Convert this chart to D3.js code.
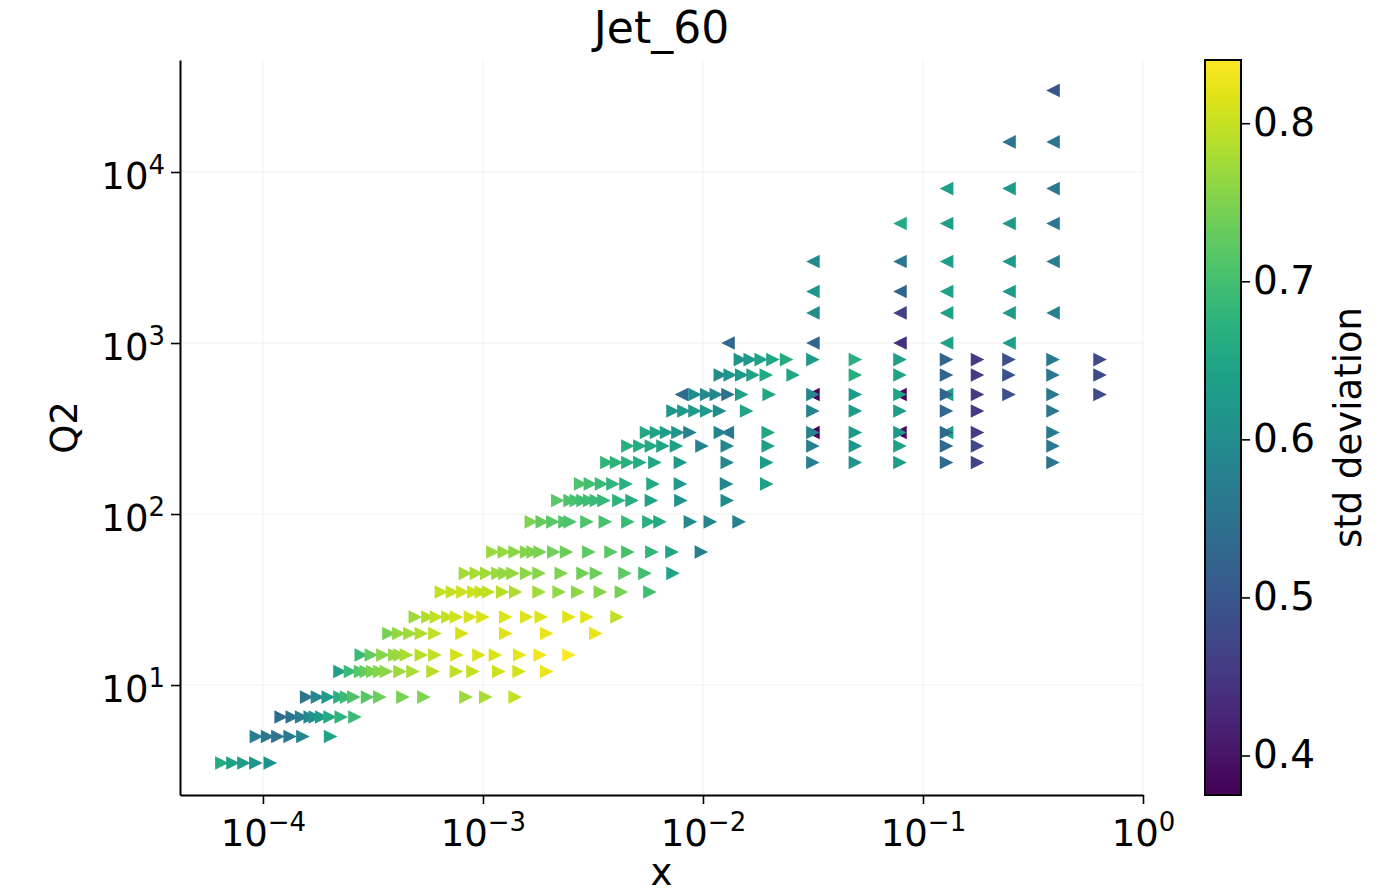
<!DOCTYPE html>
<html>
<head>
<meta charset="utf-8">
<script src="https://cdn.jsdelivr.net/npm/d3@7"></script>
<style>
body { margin: 0; background: #fff; }
text { font-family: "DejaVu Sans", sans-serif; }
</style>
</head>
<body>
<script>
// right-pointing markers, one row per Q2 bin
const q2Right = [3.5, 5, 6.5, 8.5, 12, 15, 20, 25, 35, 45, 60, 90, 120, 150, 200, 250, 300, 400, 500, 650, 800];
const xRight = [
  [6.51e-5, 7.31e-5, 8.20e-5, 9.29e-5, 1.08e-4],
  [9.34e-5, 1.05e-4, 1.17e-4, 1.33e-4, 1.52e-4, 2.03e-4],
  [1.21e-4, 1.36e-4, 1.50e-4, 1.64e-4, 1.73e-4, 1.85e-4, 2.02e-4, 2.27e-4, 2.62e-4],
  [1.58e-4, 1.77e-4, 1.98e-4, 2.24e-4, 2.40e-4, 2.59e-4, 2.99e-4, 3.40e-4, 4.33e-4, 5.39e-4, 8.37e-4, 1.03e-3, 1.40e-3],
  [2.24e-4, 2.50e-4, 2.78e-4, 2.95e-4, 3.16e-4, 3.40e-4, 3.64e-4, 4.20e-4, 4.81e-4, 5.93e-4, 7.58e-4, 9.01e-4, 1.18e-3, 1.46e-3, 1.95e-3],
  [2.80e-4, 3.11e-4, 3.51e-4, 3.98e-4, 4.20e-4, 4.49e-4, 5.25e-4, 6.05e-4, 7.62e-4, 9.59e-4, 1.14e-3, 1.47e-3, 1.82e-3, 2.46e-3],
  [3.74e-4, 4.15e-4, 4.66e-4, 5.25e-4, 6.05e-4, 8.03e-4, 1.27e-3, 1.95e-3, 3.26e-3],
  [4.93e-4, 5.62e-4, 6.15e-4, 6.93e-4, 7.58e-4, 8.77e-4, 1.00e-3, 1.27e-3, 1.58e-3, 1.84e-3, 2.46e-3, 2.97e-3, 4.07e-3],
  [6.48e-4, 7.27e-4, 8.11e-4, 9.10e-4, 9.84e-4, 1.06e-3, 1.23e-3, 1.41e-3, 1.80e-3, 2.22e-3, 2.70e-3, 3.42e-3, 4.26e-3, 5.74e-3],
  [8.33e-4, 9.34e-4, 1.04e-3, 1.17e-3, 1.26e-3, 1.37e-3, 1.58e-3, 1.80e-3, 2.27e-3, 2.85e-3, 3.28e-3, 4.42e-3, 5.45e-3, 7.31e-3],
  [1.11e-3, 1.25e-3, 1.40e-3, 1.58e-3, 1.69e-3, 1.82e-3, 2.10e-3, 2.40e-3, 3.03e-3, 3.82e-3, 4.56e-3, 5.86e-3, 7.23e-3, 9.84e-3],
  [1.66e-3, 1.86e-3, 2.08e-3, 2.36e-3, 2.49e-3, 2.97e-3, 3.60e-3, 4.56e-3, 5.68e-3, 6.38e-3, 8.77e-3, 1.08e-2, 1.46e-2],
  [2.19e-3, 2.49e-3, 2.66e-3, 2.85e-3, 3.06e-3, 3.28e-3, 3.55e-3, 4.15e-3, 4.76e-3, 5.83e-3, 7.94e-3, 1.29e-2],
  [2.78e-3, 3.08e-3, 3.46e-3, 3.90e-3, 4.47e-3, 5.93e-3, 7.90e-3, 1.28e-2, 1.95e-2],
  [3.66e-3, 4.05e-3, 4.56e-3, 5.17e-3, 6.05e-3, 7.90e-3, 1.29e-2, 1.95e-2, 0.0316, 0.0493, 0.0786, 0.128, 0.177, 0.39],
  [4.56e-3, 5.17e-3, 5.83e-3, 6.58e-3, 7.58e-3, 9.90e-3, 1.29e-2, 1.98e-2, 0.0316, 0.0493, 0.0786, 0.128, 0.177, 0.39],
  [5.54e-3, 6.15e-3, 6.83e-3, 7.70e-3, 8.73e-3, 1.20e-2, 1.98e-2, 0.0316, 0.0493, 0.0786, 0.128, 0.177, 0.39],
  [7.31e-3, 8.20e-3, 9.20e-3, 1.04e-2, 1.19e-2, 1.58e-2, 0.0316, 0.0493, 0.0786, 0.128, 0.177, 0.39],
  [9.20e-3, 1.04e-2, 1.15e-2, 1.30e-2, 1.50e-2, 2.00e-2, 0.0316, 0.0493, 0.0786, 0.128, 0.177, 0.246, 0.39, 0.638],
  [1.20e-2, 1.33e-2, 1.50e-2, 1.69e-2, 1.94e-2, 2.57e-2, 0.0493, 0.0786, 0.128, 0.177, 0.246, 0.39, 0.638],
  [1.48e-2, 1.64e-2, 1.84e-2, 2.08e-2, 2.40e-2, 0.0316, 0.0493, 0.0786, 0.128, 0.177, 0.246, 0.39, 0.638]
];
const stdRight = [
  [0.66, 0.64, 0.63, 0.62, 0.61],
  [0.57, 0.56, 0.555, 0.565, 0.59, 0.645],
  [0.54, 0.555, 0.57, 0.59, 0.61, 0.63, 0.66, 0.675, 0.69],
  [0.555, 0.59, 0.63, 0.67, 0.69, 0.71, 0.72, 0.735, 0.745, 0.75, 0.77, 0.78, 0.80],
  [0.64, 0.69, 0.715, 0.73, 0.745, 0.755, 0.76, 0.77, 0.78, 0.79, 0.795, 0.80, 0.805, 0.81, 0.825],
  [0.69, 0.73, 0.755, 0.765, 0.77, 0.78, 0.79, 0.795, 0.81, 0.812, 0.815, 0.822, 0.83, 0.84],
  [0.745, 0.765, 0.775, 0.785, 0.795, 0.81, 0.815, 0.825, 0.825],
  [0.77, 0.785, 0.795, 0.80, 0.805, 0.81, 0.812, 0.815, 0.815, 0.815, 0.82, 0.82, 0.795],
  [0.795, 0.80, 0.805, 0.805, 0.80, 0.795, 0.79, 0.785, 0.775, 0.765, 0.76, 0.755, 0.745, 0.70],
  [0.775, 0.78, 0.775, 0.77, 0.765, 0.765, 0.76, 0.755, 0.75, 0.74, 0.735, 0.725, 0.70, 0.645],
  [0.77, 0.765, 0.76, 0.755, 0.75, 0.745, 0.74, 0.735, 0.725, 0.72, 0.705, 0.68, 0.645, 0.575],
  [0.75, 0.73, 0.72, 0.715, 0.71, 0.71, 0.705, 0.69, 0.67, 0.655, 0.595, 0.585, 0.58],
  [0.72, 0.71, 0.705, 0.70, 0.695, 0.69, 0.685, 0.675, 0.665, 0.645, 0.615, 0.60],
  [0.71, 0.70, 0.69, 0.68, 0.67, 0.655, 0.625, 0.59, 0.64],
  [0.68, 0.675, 0.67, 0.66, 0.65, 0.63, 0.59, 0.63, 0.58, 0.615, 0.63, 0.535, 0.47, 0.555],
  [0.67, 0.66, 0.655, 0.645, 0.635, 0.585, 0.59, 0.635, 0.58, 0.62, 0.64, 0.535, 0.475, 0.56],
  [0.655, 0.645, 0.635, 0.62, 0.58, 0.59, 0.65, 0.585, 0.625, 0.625, 0.53, 0.455, 0.565],
  [0.62, 0.625, 0.63, 0.625, 0.60, 0.645, 0.585, 0.63, 0.63, 0.53, 0.455, 0.56],
  [0.60, 0.598, 0.59, 0.55, 0.64, 0.65, 0.59, 0.63, 0.645, 0.525, 0.455, 0.49, 0.565, 0.48],
  [0.60, 0.615, 0.625, 0.645, 0.655, 0.65, 0.665, 0.645, 0.525, 0.455, 0.49, 0.565, 0.48],
  [0.615, 0.625, 0.64, 0.65, 0.66, 0.625, 0.67, 0.635, 0.525, 0.455, 0.49, 0.565, 0.48]
];

// left-pointing markers
const q2Left = [300, 500, 1000, 1500, 2000, 3000, 5000, 8000, 15000, 30000];
const xLeft = [
  [1.29e-2, 0.0316, 0.0786, 0.128],
  [7.98e-3, 0.0316, 0.0786, 0.128],
  [1.30e-2, 0.0316, 0.0786, 0.128, 0.246],
  [0.0316, 0.0786, 0.128, 0.246, 0.39],
  [0.0316, 0.0786, 0.128, 0.246],
  [0.0316, 0.0786, 0.128, 0.246, 0.39],
  [0.0786, 0.128, 0.246, 0.39],
  [0.128, 0.246, 0.39],
  [0.246, 0.39],
  [0.39]
];
const stdLeft = [
  [0.56, 0.38, 0.39, 0.635],
  [0.535, 0.38, 0.385, 0.635],
  [0.53, 0.525, 0.44, 0.64, 0.635],
  [0.60, 0.465, 0.64, 0.63, 0.58],
  [0.615, 0.525, 0.64, 0.63],
  [0.60, 0.56, 0.635, 0.625, 0.57],
  [0.655, 0.635, 0.625, 0.56],
  [0.635, 0.63, 0.56],
  [0.555, 0.555],
  [0.495]
];

const xMajor = [1e-4, 1e-3, 1e-2, 1e-1, 1];
const yMajor = [1e1, 1e2, 1e3, 1e4];
const cbarTicks = [0.4, 0.5, 0.6, 0.7, 0.8];
const stdRange = [0.375, 0.84];

const W = 1389, H = 896;
const plotL = 180, plotR = 1143, plotT = 60, plotB = 795;
const fs = 37, fsExp = 26;

const svg = d3.select("body").append("svg").attr("width", W).attr("height", H);

const x = d3.scaleLog().domain([Math.pow(10, -4.377), 1]).range([plotL, plotR]);
const y = d3.scaleLog().domain([Math.pow(10, 0.357), Math.pow(10, 4.655)]).range([plotB, plotT]);
const color = d3.scaleSequential(d3.interpolateViridis).domain(stdRange);

function minorTicks(lo, hi) {
  const out = [];
  for (let e = lo; e <= hi; e++)
    for (let m = 2; m <= 9; m++) out.push(m * Math.pow(10, e));
  return out;
}
const xMinor = minorTicks(-5, -1).filter(v => v > x.domain()[0] && v < 1);
const yMinor = minorTicks(0, 4).filter(v => v > y.domain()[0] && v < y.domain()[1]);

// grid
svg.append("g").selectAll("line").data(xMajor).enter().append("line")
  .attr("x1", d => x(d)).attr("x2", d => x(d)).attr("y1", plotT).attr("y2", plotB)
  .attr("stroke", "#000").attr("stroke-opacity", 0.06).attr("stroke-width", 1);
svg.append("g").selectAll("line").data(yMajor).enter().append("line")
  .attr("y1", d => y(d)).attr("y2", d => y(d)).attr("x1", plotL).attr("x2", plotR)
  .attr("stroke", "#000").attr("stroke-opacity", 0.06).attr("stroke-width", 1);

function flatten(rows, xs, ss, dir) {
  const pts = [];
  rows.forEach((q, i) => xs[i].forEach((xv, j) => pts.push({ x: xv, q2: q, s: ss[i][j], dir: dir })));
  return pts;
}
const points = flatten(q2Left, xLeft, stdLeft, -1).concat(flatten(q2Right, xRight, stdRight, 1));

const h = 6.8;
function tri(d) {
  const cx = x(d.x), cy = y(d.q2);
  return `M${cx + d.dir * h},${cy}L${cx - d.dir * h},${cy - h}L${cx - d.dir * h},${cy + h}Z`;
}
svg.append("g").selectAll("path").data(points).enter().append("path")
  .attr("d", tri)
  .attr("fill", d => color(d.s));

// axes
function supLabel(sel, exp) {
  sel.text(null);
  sel.append("tspan").text("10");
  sel.append("tspan").attr("font-size", fsExp).attr("dy", -15)
    .text(exp < 0 ? "\u2212" + (-exp) : String(exp));
}

const gx = svg.append("g").attr("transform", `translate(0,${plotB})`);
gx.call(d3.axisBottom(x).tickValues(xMinor).tickSize(5).tickSizeOuter(0).tickFormat(""));
gx.call(d3.axisBottom(x).tickValues(xMajor).tickSize(9).tickSizeOuter(0).tickFormat(""));
gx.selectAll(".tick").filter(d => xMajor.includes(d)).append("text")
  .attr("y", 51).attr("text-anchor", "middle").attr("fill", "#000").attr("font-size", fs)
  .each(function (d) { supLabel(d3.select(this), Math.round(Math.log10(d))); });

const gy = svg.append("g").attr("transform", `translate(${plotL},0)`);
gy.call(d3.axisLeft(y).tickValues(yMinor).tickSize(5).tickSizeOuter(0).tickFormat(""));
gy.call(d3.axisLeft(y).tickValues(yMajor).tickSize(9).tickSizeOuter(0).tickFormat(""));
gy.selectAll(".tick").filter(d => yMajor.includes(d)).append("text")
  .attr("x", -15).attr("y", 16).attr("text-anchor", "end").attr("fill", "#000").attr("font-size", fs)
  .each(function (d) { supLabel(d3.select(this), Math.round(Math.log10(d))); });

svg.selectAll(".domain").attr("stroke-width", 2);
svg.selectAll(".tick line").attr("stroke-width", 1.6);

// titles
svg.append("text").attr("x", (plotL + plotR) / 2).attr("y", 43).attr("text-anchor", "middle")
  .attr("font-size", 44).text("Jet_60");
svg.append("text").attr("x", (plotL + plotR) / 2).attr("y", 885).attr("text-anchor", "middle")
  .attr("font-size", fs).text("x");
svg.append("text").attr("transform", `translate(77,${(plotT + plotB) / 2}) rotate(-90)`)
  .attr("text-anchor", "middle").attr("font-size", fs).text("Q2");

// colorbar
const cbX = 1205, cbW = 36;
const c = d3.scaleLinear().domain(stdRange).range([plotB, plotT]);
const grad = svg.append("defs").append("linearGradient").attr("id", "vir")
  .attr("x1", 0).attr("y1", 1).attr("x2", 0).attr("y2", 0);
d3.range(0, 1.0001, 0.05).forEach(t => grad.append("stop")
  .attr("offset", t).attr("stop-color", d3.interpolateViridis(t)));
svg.append("rect").attr("x", cbX).attr("y", plotT).attr("width", cbW).attr("height", plotB - plotT)
  .attr("fill", "url(#vir)").attr("stroke", "#000").attr("stroke-width", 2);
const gc = svg.append("g").attr("transform", `translate(${cbX + cbW},0)`);
gc.call(d3.axisRight(c).tickValues(cbarTicks).tickSize(9).tickSizeOuter(0).tickFormat(d3.format(".1f")));
gc.select(".domain").remove();
gc.selectAll(".tick line").attr("stroke-width", 1.6);
gc.selectAll(".tick text").attr("font-size", 39).attr("x", 12).attr("font-family", "DejaVu Sans");
svg.append("text").attr("transform", `translate(1361,${(plotT + plotB) / 2}) rotate(-90)`)
  .attr("text-anchor", "middle").attr("font-size", fs).text("std deviation");
</script>
</body>
</html>
